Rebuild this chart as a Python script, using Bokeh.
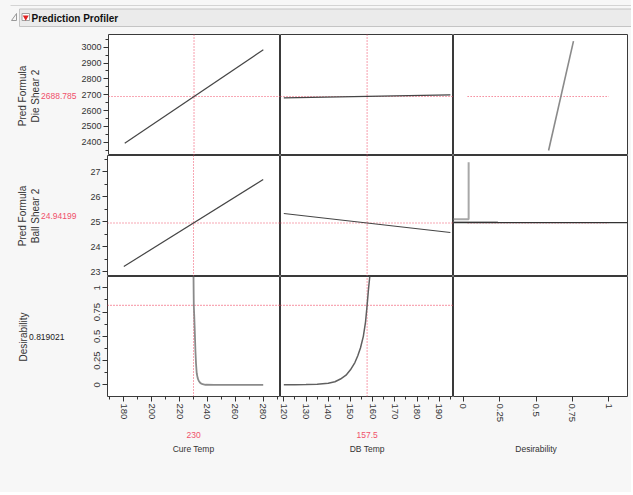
import math
from bokeh.plotting import figure
from bokeh.layouts import column, row
from bokeh.models import Range1d, SingleIntervalTicker, NumeralTickFormatter, BasicTickFormatter
from bokeh.core.properties import value
from bokeh.embed import file_html
from bokeh.resources import INLINE

# ---------------- data ----------------
factor_names = ["Cure Temp", "DB Temp", "Desirability"]
factor_current = [230, 157.5, None]
factor_current_text = ["230", "157.5", ""]
factor_low = [180, 120, 0]
factor_high = [280, 195, 1]
x_lo = [168.3, 118.5, -0.067]
x_hi = [292.4, 196.4, 1.128]
x_tick_interval = [20, 10, 0.25]
x_minor = [2, 2, 0]

response_names = ["Pred Formula\nDie Shear 2", "Pred Formula\nBall Shear 2", "Desirability"]
response_current = [2688.785, 24.94199, 0.819021]
response_text = ["2688.785", "24.94199", "0.819021"]
y_lo = [2316, 22.8, -0.12]
y_hi = [3080, 27.64, 1.117]
y_tick_interval = [100, 1, 0.25]

die_cure_x = [180, 280]
die_cure_y = [2393.8, 2983.8]
die_db_x = [120, 195]
die_db_y = [2679.4, 2698.2]
die_des_x = [0.586, 0.757]
die_des_y = [2347.6, 3038.0]

ball_cure_x = [180, 280]
ball_cure_y = [23.2, 26.68]
ball_db_x = [120, 195]
ball_db_y = [25.32, 24.56]
ball_des_x = [-0.067, 0.037, 0.037]
ball_des_y = [25.09, 25.09, 27.37]
ball_des_low_x = [-0.067, 0.238]
ball_des_low_y = [24.99, 24.99]
ball_des_flat_x = [-0.067, 1.128]
ball_des_flat_y = [24.955, 24.955]

des_cure_x = [230.0, 230.1, 230.2, 230.5, 230.8, 231.1, 231.4, 231.8, 232.3, 233.0,
              233.8, 235.0, 236.5, 238.6, 245.0, 280.0]
des_cure_y = [1.117, 0.95, 0.82, 0.72, 0.60, 0.47, 0.34, 0.22, 0.12, 0.07,
              0.04, 0.018, 0.007, 0.001, 0.0, 0.0]
des_db_x = [120, 125, 130, 135, 140, 143, 145.5, 148, 150, 152, 153.3, 154.5,
            155.8, 156.8, 157.5, 158.1, 158.7]
des_db_y = [0.0, 0.001, 0.003, 0.007, 0.016, 0.032, 0.06, 0.10, 0.155, 0.23, 0.30, 0.38,
            0.50, 0.65, 0.82, 0.98, 1.117]

des_cross_x = [0.03, 1.0]

# ---------------- style ----------------
BG = "#f7f7f7"
RED = "#f0506a"
CURVE = "#454545"
LIGHT = "#8a8a8a"
FONT = "Liberation Sans"

W, H = 631, 492
HEAD_H = 34
FW = [173, 173, 174]
FH = [121, 121, 120]
LEFTB, BOTB = 29, 30
LBL_W = 78
RIGHTB = W - LBL_W - LEFTB - sum(FW)
BOT_H = H - HEAD_H - sum(FH) - BOTB

xr = [Range1d(lo, hi) for lo, hi in zip(x_lo, x_hi)]
yr = [Range1d(lo, hi) for lo, hi in zip(y_lo, y_hi)]

curves = {
    (0, 0): [(die_cure_x, die_cure_y, CURVE, 1.2)],
    (0, 1): [(die_db_x, die_db_y, CURVE, 1.2)],
    (0, 2): [(die_des_x, die_des_y, LIGHT, 1.6)],
    (1, 0): [(ball_cure_x, ball_cure_y, CURVE, 1.2)],
    (1, 1): [(ball_db_x, ball_db_y, CURVE, 1.2)],
    (1, 2): [(ball_des_low_x, ball_des_low_y, "#b5b5b5", 1.5),
             (ball_des_x, ball_des_y, "#a8a8a8", 2.0),
             (ball_des_flat_x, ball_des_flat_y, "#333333", 1.2)],
    (2, 0): [(des_cure_x, des_cure_y, LIGHT, 1.8)],
    (2, 1): [(des_db_x, des_db_y, "#606060", 1.5)],
}


def style_axis(ax, vertical, size):
    ax.axis_line_color = None
    ax.major_tick_line_color = "#333333"
    ax.minor_tick_line_color = "#333333"
    ax.major_tick_out = 5
    ax.major_tick_in = 0
    ax.minor_tick_out = 3
    ax.minor_tick_in = 0
    ax.major_label_standoff = 2
    ax.major_label_text_font = FONT
    ax.major_label_text_font_size = size
    ax.major_label_text_color = "#333333"
    if vertical:
        ax.major_label_orientation = "vertical"


def cell(i, j):
    left = j == 0
    right = j == 2
    bottom = i == 2
    w = FW[j] + (LEFTB if left else 0) + (RIGHTB if right else 0)
    h = FH[i] + (BOTB if bottom else 0)
    p = figure(width=w, height=h, x_range=xr[j], y_range=yr[i], title=None,
               output_backend="svg", toolbar_location=None,
               x_axis_location="below" if bottom else None,
               y_axis_location="left" if left else None,
               min_border=0,
               min_border_left=LEFTB if left else 0,
               min_border_right=RIGHTB if right else 0,
               min_border_top=0,
               min_border_bottom=BOTB if bottom else 0)
    p.background_fill_color = "white"
    p.border_fill_color = BG
    p.outline_line_color = "#3a3a3a"
    p.outline_line_width = 1
    p.grid.visible = False
    if bottom:
        ax = p.xaxis[0]
        ax.ticker = SingleIntervalTicker(interval=x_tick_interval[j], num_minor_ticks=x_minor[j])
        if j == 2:
            ax.formatter = NumeralTickFormatter(format="0.[00]")
        style_axis(ax, True, "9.5px")
    if left:
        ax = p.yaxis[0]
        ax.ticker = SingleIntervalTicker(interval=y_tick_interval[i], num_minor_ticks=2)
        if i == 2:
            ax.formatter = NumeralTickFormatter(format="0.[00]")
            style_axis(ax, True, "9.5px")
        else:
            ax.formatter = BasicTickFormatter(use_scientific=False)
            style_axis(ax, False, "9px")
    # crosshairs
    dash = dict(line_color=RED, line_dash="1 2", line_width=1.1)
    if j < 2:
        p.line([factor_current[j]] * 2, [y_lo[i], y_hi[i]], **dash)
        p.line([x_lo[j], x_hi[j]], [response_current[i]] * 2, **dash)
    elif i < 2:
        p.line(des_cross_x, [response_current[i]] * 2, **dash)
    for xs, ys, col, lw in curves.get((i, j), []):
        p.line(xs, ys, line_color=col, line_width=lw)
    return p


cells = [[cell(i, j) for j in range(3)] for i in range(3)]

# bottom labels
bots = []
for j in range(3):
    left = j == 0
    right = j == 2
    w = FW[j] + (LEFTB if left else 0) + (RIGHTB if right else 0)
    b = figure(width=w, height=BOT_H, x_range=xr[j], y_range=Range1d(BOT_H, 0), title=None,
               output_backend="svg", toolbar_location=None,
               x_axis_location=None, y_axis_location=None, min_border=0,
               min_border_left=LEFTB if left else 0,
               min_border_right=RIGHTB if right else 0,
               min_border_top=0, min_border_bottom=0)
    b.background_fill_color = BG
    b.border_fill_color = BG
    b.outline_line_color = None
    b.grid.visible = False
    if factor_current[j] is not None:
        b.text(x=[factor_current[j]], y=[8], text=[factor_current_text[j]],
               text_color=RED, text_font=value(FONT), text_font_size="8.5px",
               text_align="center", text_baseline="middle")
    b.text(x=[(factor_low[j] + factor_high[j]) / 2], y=[22.5], text=[factor_names[j]],
           text_color="#333333", text_font=value(FONT), text_font_size="8.5px",
           text_align="center", text_baseline="middle")
    bots.append(b)

# left labels
LH = H - HEAD_H
L = figure(width=LBL_W, height=LH, x_range=Range1d(0, LBL_W), y_range=Range1d(LH, 0), title=None,
           output_backend="svg", toolbar_location=None,
           x_axis_location=None, y_axis_location=None, min_border=0)
L.background_fill_color = BG
L.border_fill_color = BG
L.outline_line_color = None
L.grid.visible = False
centers = [FH[0] / 2 + 1, FH[0] + FH[1] / 2, FH[0] + FH[1] + FH[2] / 2 + 0.5]
L.text(x=[28.5, 28.5, 22.5], y=centers, text=response_names, angle=math.pi / 2,
       text_color="#333333", text_font=value(FONT), text_font_size="10px",
       text_align="center", text_baseline="middle", text_line_height=1.15)
L.text(x=[76, 76, 64], y=centers, text=response_text,
       text_color=[RED, RED, "#222222"], text_font=value(FONT), text_font_size="8.5px",
       text_align="right", text_baseline="middle")

# header
hd = figure(width=W, height=HEAD_H, x_range=Range1d(0, W), y_range=Range1d(HEAD_H, 0), title=None,
            output_backend="svg", toolbar_location=None,
            x_axis_location=None, y_axis_location=None, min_border=0)
hd.background_fill_color = BG
hd.border_fill_color = BG
hd.outline_line_color = None
hd.grid.visible = False
hd.line(x=[10, W], y=[5, 5], line_color="#d4d4d4", line_width=1)
hd.quad(left=[19], right=[W], top=[8.5], bottom=[26], fill_color="#ebebeb", line_color="#c4c4c4")
hd.patch(x=[16, 16, 11], y=[13, 20, 20], fill_color=None, line_color="#9a9a9a", line_width=1)
hd.quad(left=[21.5], right=[29], top=[13], bottom=[20], fill_color="white", line_color="#a0a0a0")
hd.scatter(x=[25.25], y=[16.7], marker="inverted_triangle", size=6, fill_color="#e02020", line_color=None)
hd.text(x=[31], y=[17.5], text=["Prediction Profiler"], text_font=value(FONT), text_font_style="bold",
        text_font_size="10px", text_color="#111111", text_baseline="middle", text_align="left")

grid = column(row(*cells[0]), row(*cells[1]), row(*cells[2]), row(*bots),
              styles={"background-color": BG})
layout = column(hd, row(L, grid, styles={"background-color": BG}),
                styles={"background-color": BG})

open("out.html", "w").write(file_html(layout, INLINE))
